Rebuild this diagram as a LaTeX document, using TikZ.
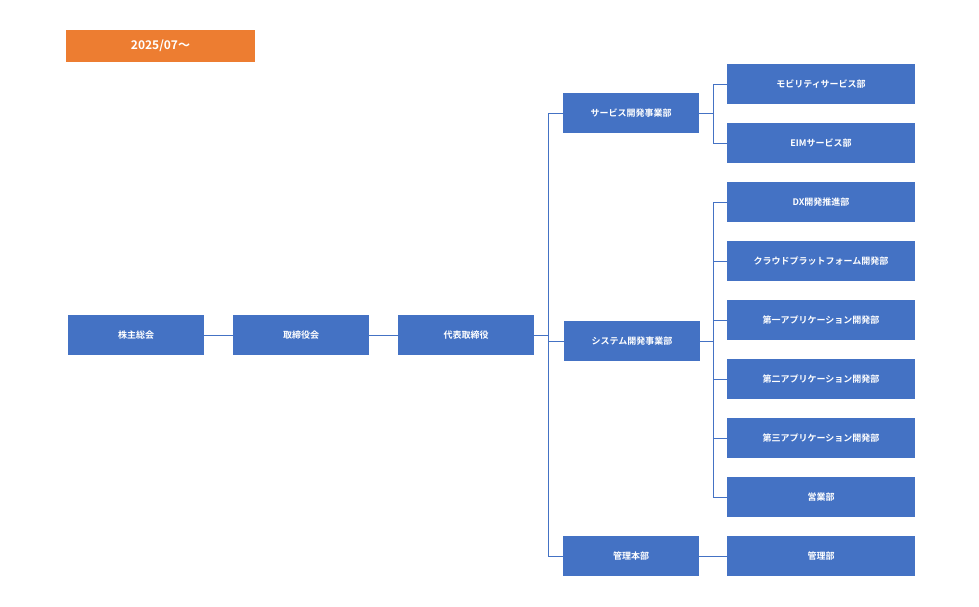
\documentclass[tikz,border=0pt]{standalone}
\usepackage{fontspec}
\setmainfont{Noto Sans CJK JP}[BoldFont={Noto Sans CJK JP Bold}]
\definecolor{bx}{HTML}{4472C4}
\definecolor{og}{HTML}{ED7D31}
\begin{document}
\begin{tikzpicture}[x=1pt,y=-1pt,
  bbox/.style={fill=bx,draw=none,text=white,font=\bfseries\fontsize{9}{10}\selectfont,minimum width=136pt,minimum height=40pt,inner sep=0pt},
  rbox/.style={bbox,minimum width=188pt},
  ln/.style={draw=bx,line width=0.6pt}]
\useasboundingbox (0,0) rectangle (979,606);
\node[fill=og,text=white,font=\bfseries\fontsize{12}{14}\selectfont,minimum width=189pt,minimum height=32pt,inner sep=0pt] (hdr) at (160.5,46) {2025/07〜};
\node[bbox] (kabu) at (136,335) {株主総会};
\node[bbox] (tori) at (301,335) {取締役会};
\node[bbox] (dai) at (466,335) {代表取締役};
\node[bbox] (svc) at (631,113) {サービス開発事業部};
\node[bbox] (sys) at (632,341) {システム開発事業部};
\node[bbox] (kan) at (631,556) {管理本部};
\node[rbox] (r1) at (821,84) {モビリティサービス部};
\node[rbox] (r2) at (821,143) {EIMサービス部};
\node[rbox] (r3) at (821,202) {DX開発推進部};
\node[rbox] (r4) at (821,261) {クラウドプラットフォーム開発部};
\node[rbox] (r5) at (821,320) {第一アプリケーション開発部};
\node[rbox] (r6) at (821,379) {第二アプリケーション開発部};
\node[rbox] (r7) at (821,438) {第三アプリケーション開発部};
\node[rbox] (r8) at (821,497) {営業部};
\node[rbox] (r9) at (821,556) {管理部};
\coordinate (t1) at (548,335);
\coordinate (t2) at (713,113);
\coordinate (t3) at (713,341);
\draw[ln] (kabu) -- (tori);
\draw[ln] (tori) -- (dai);
\draw[ln] (dai.east) -- (t1);
\foreach \n in {svc,sys,kan} \draw[ln] (t1) |- (\n.west);
\draw[ln] (svc.east) -- (t2);
\foreach \n in {r1,r2} \draw[ln] (t2) |- (\n.west);
\draw[ln] (sys.east) -- (t3);
\foreach \n in {r3,r4,r5,r6,r7,r8} \draw[ln] (t3) |- (\n.west);
\draw[ln] (kan) -- (r9);
\end{tikzpicture}
\end{document}
